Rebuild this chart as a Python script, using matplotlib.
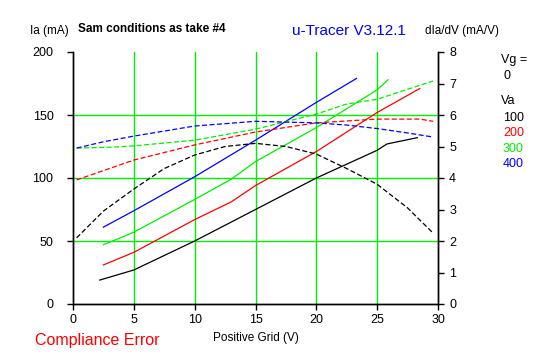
import matplotlib
matplotlib.use("Agg")
import matplotlib.pyplot as plt

plt.rcParams['font.family'] = ['Liberation Sans', 'DejaVu Sans']

# Anode current Ia (mA) vs positive grid voltage, Vg=0 setting, Va series
black_ia_x = [2.2, 5, 10, 15, 20, 25, 25.8, 28.3]
black_ia_y = [19, 27, 50, 75, 100, 122, 127, 132]
red_ia_x = [2.5, 5, 10, 13, 15, 20, 25, 28.5]
red_ia_y = [31, 41, 67, 81, 94, 121, 152, 171]
green_ia_x = [2.5, 5, 10, 13, 15, 20, 22.5, 25, 25.9]
green_ia_y = [47, 57, 83, 99, 113, 140, 155, 170, 178]
blue_ia_x = [2.5, 5, 10, 15, 20, 23.3]
blue_ia_y = [61, 74, 101, 130, 160, 179]

# Transconductance dIa/dV (mA/V)
black_gm_x = [0.3, 2.5, 5, 7.5, 10, 12.5, 15, 17.5, 20, 22.5, 25, 27.5, 29.6]
black_gm_y = [2.1, 2.95, 3.65, 4.3, 4.73, 5.0, 5.1, 5.0, 4.76, 4.3, 3.8, 3.05, 2.25]
red_gm_x = [0.3, 5, 10, 15, 20, 25, 28.5, 29.6]
red_gm_y = [3.94, 4.57, 5.05, 5.46, 5.75, 5.87, 5.87, 5.8]
green_gm_x = [0.3, 3.3, 5, 10, 15, 20, 22.5, 25, 29.6]
green_gm_y = [4.95, 4.98, 5.02, 5.2, 5.55, 6.03, 6.35, 6.5, 7.08]
blue_gm_x = [0.3, 2.5, 5, 10, 15, 20, 22.5, 25, 27.5, 29.6]
blue_gm_y = [4.95, 5.15, 5.33, 5.65, 5.8, 5.75, 5.68, 5.57, 5.43, 5.3]

va_labels = ["100", "200", "300", "400"]
colors = ["black", "red", "#00ee00", "blue"]
x_ticks = [0, 5, 10, 15, 20, 25, 30]
left_ticks = [0, 50, 100, 150, 200]
right_ticks = list(range(9))

fig = plt.figure(figsize=(5.47, 3.57), dpi=100)
ax = fig.add_axes([73/547, 1-304/357, (438-73)/547, (304-52)/357])
ax2 = ax.twinx()

ax.set_xlim(0, 30)
ax.set_ylim(0, 200)
ax2.set_ylim(0, 8)
ax.set_xticks(x_ticks)
ax.set_yticks(left_ticks)
ax2.set_yticks(right_ticks)

for xv in [5, 10, 15, 20, 25]:
    ax.axvline(xv, color="#00ee00", lw=1.0, zorder=0)
for yv in [50, 100, 150]:
    ax.axhline(yv, color="#00ee00", lw=1.0, zorder=0)

ia = [(black_ia_x, black_ia_y), (red_ia_x, red_ia_y), (green_ia_x, green_ia_y), (blue_ia_x, blue_ia_y)]
gm = [(black_gm_x, black_gm_y), (red_gm_x, red_gm_y), (green_gm_x, green_gm_y), (blue_gm_x, blue_gm_y)]
for (x, y), c in zip(ia, colors):
    ax.plot(x, y, color=c, lw=0.9)
for (x, y), c in zip(gm, colors):
    ax2.plot(x, y, color=c, lw=0.9, dashes=(4, 2))

for a in (ax, ax2):
    for s in a.spines.values():
        s.set_linewidth(1.0)
    a.spines["top"].set_visible(False)
ax.tick_params(axis="both", direction="out", length=4, labelsize=9, width=1.0)
ax2.tick_params(axis="y", direction="out", length=4, labelsize=9, width=1.0)
ax.tick_params(axis="y", pad=10)
ax2.tick_params(axis="y", pad=4)

ax.set_xlabel("Positive Grid (V)", fontsize=8.5, labelpad=4)

fig.text(30/547, 1-31/357, "Ia (mA)", fontsize=8.5, ha="left", va="center")
fig.text(78/547, 1-29/357, "Sam conditions as take #4", fontsize=8.5, fontweight="bold", ha="left", va="center")
fig.text(292/547, 1-31/357, "u-Tracer V3.12.1", fontsize=11, color="blue", ha="left", va="center")
fig.text(425/547, 1-31/357, "dIa/dV (mA/V)", fontsize=8.5, ha="left", va="center")
fig.text(501/547, 1-60/357, "Vg =", fontsize=9, ha="left", va="center")
fig.text(504/547, 1-76/357, "0", fontsize=9, ha="left", va="center")
fig.text(501/547, 1-101/357, "Va", fontsize=9, ha="left", va="center")
for i, (lab, c) in enumerate(zip(va_labels, colors)):
    fig.text(503/547, 1-(118 + i*15.3)/357, lab, fontsize=9, color=c, ha="left", va="center")
fig.text(35/547, 1-341/357, "Compliance Error", fontsize=11.5, color="red", ha="left", va="center")

fig.savefig("out.png", dpi=100)
